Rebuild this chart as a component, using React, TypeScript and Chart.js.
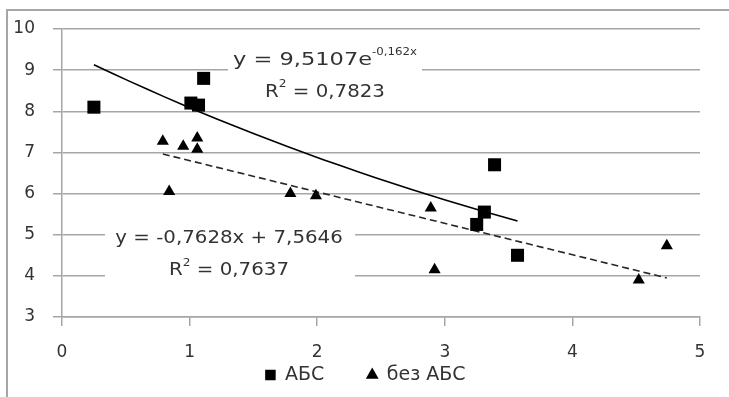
import React, { useEffect, useRef } from 'react';
import { Chart, registerables } from 'chart.js';
Chart.register(...registerables);

// ---- data ----
const absX = [0.25, 1.01, 1.07, 1.11, 3.25, 3.31, 3.39, 3.57];
const absY = [8.1, 8.2, 8.15, 8.8, 5.25, 5.55, 6.7, 4.5];
const noAbsX = [0.79, 0.84, 0.95, 1.06, 1.06, 1.79, 1.99, 2.89, 2.92, 4.52, 4.74];
const noAbsY = [7.27, 6.05, 7.15, 7.35, 7.08, 6.0, 5.95, 5.65, 4.15, 3.9, 4.73];
const seriesNames = ['АБС', 'без АБС'];
const xTicks = [0, 1, 2, 3, 4, 5];
const yTicks = [3, 4, 5, 6, 7, 8, 9, 10];
// trendline coefficients shown on the chart
const expA = 9.5107;
const expB = -0.162;
const linM = -0.7628;
const linC = 7.5646;
const expEqMain = 'y = 9,5107e';
const expEqSup = '-0,162x';
const expR2 = '0,7823';
const linEq = 'y = -0,7628x + 7,5646';
const linR2 = '0,7637';

const FAMILY = 'DejaVu Sans';
const FONT = '"DejaVu Sans"';
const TEXT = '#333333';
const GRID = '#a6a6a6';

const expCurve = (() => {
  const lo = Math.min(...absX);
  const hi = Math.max(...absX);
  const pts: { x: number; y: number }[] = [];
  const n = 24;
  for (let i = 0; i <= n; i++) {
    const x = lo + ((hi - lo) * i) / n;
    pts.push({ x, y: expA * Math.exp(expB * x) });
  }
  return pts;
})();
const linLine = (() => {
  const lo = Math.min(...noAbsX);
  const hi = Math.max(...noAbsX);
  return [
    { x: lo, y: linM * lo + linC },
    { x: hi, y: linM * hi + linC },
  ];
})();

type Part = { t: string; s?: boolean; sx: number };

const labelPlugin = {
  id: 'eqLabels',
  afterLayout(chart: any) {
    const lg = chart.legend;
    if (!lg) return;
    lg.left += 15.5;
    lg.right += 15.5;
    lg.top = 322.5;
    lg.bottom = chart.height;
    lg.height = lg.bottom - lg.top;
  },
  beforeDraw(chart: any) {
    const { ctx } = chart;
    ctx.save();
    ctx.strokeStyle = GRID;
    ctx.lineWidth = 2;
    ctx.beginPath();
    ctx.moveTo(7, chart.height);
    ctx.lineTo(7, 10);
    ctx.lineTo(chart.width, 10);
    ctx.stroke();
    ctx.restore();
  },
  afterDraw(chart: any) {
    const { ctx, scales } = chart;
    const xs = scales.x;
    const ys = scales.y;
    const main = `18px ${FONT}`;
    const sup = `11px ${FONT}`;
    const drawParts = (parts: Part[], cx: number, by: number) => {
      let w = 0;
      const ws = parts.map((p) => {
        ctx.font = p.s ? sup : main;
        const m = ctx.measureText(p.t).width * p.sx;
        w += m;
        return m;
      });
      let x = cx - w / 2;
      parts.forEach((p, i) => {
        ctx.save();
        ctx.font = p.s ? sup : main;
        ctx.translate(x, by + (p.s ? -9.5 : 0));
        ctx.scale(p.sx, 1);
        ctx.fillText(p.t, 0, 0);
        ctx.restore();
        x += ws[i];
      });
    };
    ctx.save();
    ctx.fillStyle = '#fff';
    // label 1 (exponential trend)
    const c1x = xs.getPixelForValue(2.061);
    const b1a = ys.getPixelForValue(9.137);
    const b1b = ys.getPixelForValue(8.359);
    // label 2 (linear trend)
    const c2x = xs.getPixelForValue(1.309);
    const b2a = ys.getPixelForValue(4.798);
    const b2b = ys.getPixelForValue(4.02);
    ctx.fillRect(c1x - 97, b1a - 20, 194, b1b - b1a + 28);
    ctx.fillRect(c2x - 124, b2a - 20, 250, b2b - b2a + 28);
    ctx.fillStyle = TEXT;
    ctx.textBaseline = 'alphabetic';
    ctx.textAlign = 'left';
    drawParts([{ t: expEqMain, sx: 1.25 }, { t: expEqSup, s: true, sx: 1.07 }], c1x, b1a);
    drawParts([{ t: 'R', sx: 1.1 }, { t: '2', s: true, sx: 1.1 }, { t: ' = ' + expR2, sx: 1.1 }], c1x, b1b);
    drawParts([{ t: linEq, sx: 1.1 }], c2x, b2a);
    drawParts([{ t: 'R', sx: 1.1 }, { t: '2', s: true, sx: 1.1 }, { t: ' = ' + linR2, sx: 1.1 }], c2x, b2b);
    ctx.restore();
  },
};

export default function App() {
  const ref = useRef<HTMLCanvasElement>(null);
  useEffect(() => {
    if (!ref.current) return;
    const chart = new Chart(ref.current, {
      type: 'scatter',
      data: {
        datasets: [
          {
            label: seriesNames[0],
            data: absX.map((x, i) => ({ x, y: absY[i] })),
            pointStyle: 'rect',
            pointRadius: 9.2,
            backgroundColor: '#000',
            borderColor: '#000',
            borderWidth: 0,
          },
          {
            label: seriesNames[1],
            data: noAbsX.map((x, i) => ({ x, y: noAbsY[i] })),
            pointStyle: 'triangle',
            pointRadius: 7,
            backgroundColor: '#000',
            borderColor: '#000',
            borderWidth: 0,
          },
          {
            label: 'exp',
            type: 'line',
            data: expCurve,
            borderColor: '#000',
            borderWidth: 1.6,
            pointRadius: 0,
            showLine: true,
            fill: false,
          } as any,
          {
            label: 'lin',
            type: 'line',
            data: linLine,
            borderColor: '#262626',
            borderWidth: 1.6,
            borderDash: [7, 4],
            pointRadius: 0,
            showLine: true,
            fill: false,
          } as any,
        ],
      },
      options: {
        animation: false,
        responsive: false,
        layout: { padding: { left: 0, top: 29, right: 29, bottom: 0 } },
        plugins: {
          tooltip: { enabled: false },
          legend: {
            position: 'bottom',
            maxHeight: 30,
            labels: {
              filter: (item: any) => item.datasetIndex < 2,
              usePointStyle: true,
              boxWidth: 10,
              boxHeight: 10.5,
              color: TEXT,
              font: { family: FAMILY, size: 19 },
              padding: 43,
            },
          },
        },
        scales: {
          x: {
            type: 'linear',
            min: 0,
            max: 5,
            afterBuildTicks: (s: any) => {
              s.ticks = xTicks.map((v) => ({ value: v }));
            },
            afterFit: (s: any) => {
              s.height = 50;
            },
            grid: { drawOnChartArea: false, color: GRID, tickLength: 9, lineWidth: 1.5 },
            border: { color: GRID, width: 1.5 },
            ticks: { color: TEXT, font: { family: FAMILY, size: 17 }, padding: 16 },
          },
          y: {
            type: 'linear',
            min: 3,
            max: 10,
            afterBuildTicks: (s: any) => {
              s.ticks = yTicks.map((v) => ({ value: v }));
            },
            afterFit: (s: any) => {
              s.width = 62;
            },
            grid: { color: GRID, tickLength: 9, lineWidth: 1.5 },
            border: { color: GRID, width: 1.5 },
            ticks: { color: TEXT, font: { family: FAMILY, size: 17 }, padding: 18 },
          },
        },
      },
      plugins: [labelPlugin],
    });
    return () => chart.destroy();
  }, []);
  return (
    <div style={{ position: 'absolute', left: 0, top: 0, width: 729, height: 397, background: '#fff' }}>
      <canvas ref={ref} width={729} height={397} />
    </div>
  );
}
